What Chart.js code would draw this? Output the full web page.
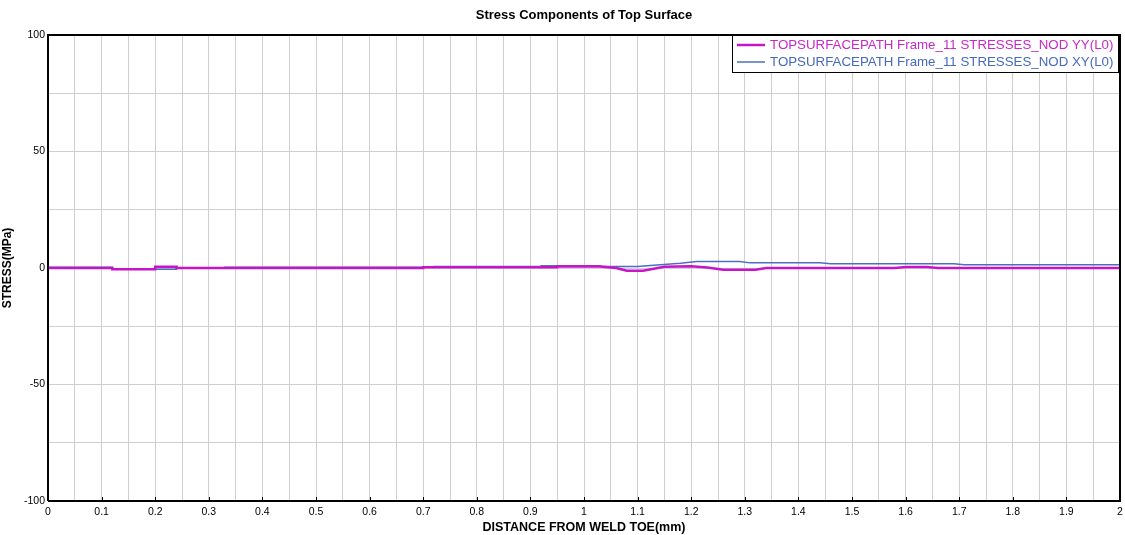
<!DOCTYPE html>
<html>
<head>
<meta charset="utf-8">
<script src="https://cdn.jsdelivr.net/npm/chart.js@4"></script>
<style>
  html, body { margin: 0; padding: 0; background: #fff; }
  #wrap { width: 1125px; height: 535px; }
</style>
</head>
<body>
<div id="wrap"><canvas id="StressGraph"></canvas></div>
<script>
// distance along path (mm) and stress (MPa)
var yyDist = [0, 0.12, 0.12, 0.2, 0.2, 0.24, 0.24, 0.7, 0.7, 0.95, 0.95, 1.03, 1.06, 1.08, 1.11, 1.15, 1.2, 1.23, 1.26, 1.32, 1.34, 1.58, 1.6, 1.64, 1.66, 2];
var yyStress = [0, 0, -0.5, -0.5, 0.5, 0.5, 0, 0, 0.3, 0.3, 0.6, 0.6, 0, -1.2, -1.2, 0.5, 0.8, 0.2, -0.7, -0.7, 0, 0, 0.4, 0.4, 0, 0];
var xyDist = [0, 0.12, 0.12, 0.24, 0.24, 0.33, 0.33, 0.72, 0.72, 0.92, 0.92, 1.03, 1.03, 1.1, 1.13, 1.18, 1.21, 1.29, 1.31, 1.44, 1.46, 1.69, 1.71, 2];
var xyStress = [0.3, 0.3, -0.5, -0.5, 0, 0, 0.3, 0.3, 0.6, 0.6, 1.0, 1.0, 0.6, 0.6, 1.2, 2.0, 2.8, 2.8, 2.2, 2.2, 1.8, 1.8, 1.4, 1.4];
var seriesNames = ["TOPSURFACEPATH Frame_11 STRESSES_NOD YY(L0)", "TOPSURFACEPATH Frame_11 STRESSES_NOD XY(L0)"];
var chartTitle = "Stress Components of Top Surface";
var xTickLabels = [0, 0.1, 0.2, 0.3, 0.4, 0.5, 0.6, 0.7, 0.8, 0.9, 1, 1.1, 1.2, 1.3, 1.4, 1.5, 1.6, 1.7, 1.8, 1.9, 2];
var yTickLabels = [-100, -50, 0, 50, 100];

var FONT = "Arial, 'Liberation Sans', sans-serif";

function toPoints(xs, ys) {
    return xs.map(function(x, i) { return { x: x, y: ys[i] }; });
}

// title over the plot, frame, inner tick marks and the boxed legend inside the plot
var framePlugin = {
    id: 'frame',
    afterDraw: function(chart) {
        var ctx = chart.ctx, a = chart.chartArea, xs = chart.scales.x;
        ctx.save();
        ctx.fillStyle = '#000';
        ctx.font = 'bold 13px ' + FONT;
        ctx.textAlign = 'center';
        ctx.textBaseline = 'middle';
        ctx.fillText(chartTitle, (a.left + a.right) / 2, 15);
        ctx.textAlign = 'left';

        ctx.strokeStyle = '#000';
        ctx.lineWidth = 2;
        ctx.beginPath();
        ctx.moveTo(a.left, a.bottom);
        ctx.lineTo(a.left, a.top);
        ctx.lineTo(a.right, a.top);
        ctx.lineTo(a.right, a.bottom);
        ctx.lineTo(a.left, a.bottom);
        ctx.stroke();
        ctx.lineWidth = 1;
        xTickLabels.forEach(function(v) {
            var px = Math.round(xs.getPixelForValue(v)) + 0.5;
            ctx.beginPath();
            ctx.moveTo(px, a.bottom);
            ctx.lineTo(px, a.bottom - 4);
            ctx.stroke();
        });

        var bx = a.right - 388, by = a.top, bw = 386, bh = 37;
        ctx.fillStyle = '#fff';
        ctx.fillRect(bx, by, bw, bh);
        ctx.strokeStyle = '#000';
        ctx.lineWidth = 1;
        ctx.strokeRect(bx + 0.5, by + 0.5, bw, bh);
        ctx.font = '13.3px ' + FONT;
        ctx.textBaseline = 'middle';
        chart.data.datasets.forEach(function(ds, i) {
            var ly = by + 10 + i * 17;
            ctx.strokeStyle = ds.borderColor;
            ctx.lineWidth = ds.borderWidth;
            ctx.beginPath();
            ctx.moveTo(bx + 5, ly);
            ctx.lineTo(bx + 33, ly);
            ctx.stroke();
            ctx.fillStyle = ds.labelColor;
            ctx.fillText(ds.label, bx + 38, ly);
        });
        ctx.restore();
    }
};

var StressGraph = new Chart(document.getElementById("StressGraph").getContext("2d"), {
    type: 'line',
    data: {
        datasets: [
            {
                label: seriesNames[0],
                data: toPoints(yyDist, yyStress),
                borderColor: "rgba(200,20,200,1)",
                labelColor: "rgba(200,40,200,1)",
                borderWidth: 2.5,
                pointRadius: 0,
                fill: false,
                tension: 0
            },
            {
                label: seriesNames[1],
                data: toPoints(xyDist, xyStress),
                borderColor: "rgba(75,110,195,1)",
                labelColor: "rgba(70,105,190,1)",
                borderWidth: 1.5,
                pointRadius: 0,
                fill: false,
                tension: 0
            }
        ]
    },
    options: {
        responsive: true,
        maintainAspectRatio: false,
        animation: false,
        layout: { padding: { left: 0, right: 5, top: 35, bottom: 0 } },
        plugins: {
            legend: { display: false },
            tooltip: { enabled: false },
            title: { display: false }
        },
        scales: {
            x: {
                type: 'linear',
                min: 0,
                max: 2,
                afterFit: function(s) { s.height = 34; s.paddingRight = 0; s.paddingLeft = 0; },
                ticks: {
                    stepSize: 0.05,
                    autoSkip: false,
                    maxRotation: 0,
                    padding: 5,
                    color: '#000',
                    font: { family: FONT, size: 10.5 },
                    callback: function(v) {
                        var r = Math.round(v * 10) / 10;
                        return Math.abs(v - r) < 1e-6 && xTickLabels.indexOf(r) >= 0 ? String(r) : '';
                    }
                },
                grid: { color: '#cfcfcf', lineWidth: 1, drawTicks: false },
                border: { display: false },
                title: {
                    display: true,
                    text: 'DISTANCE FROM WELD TOE(mm)',
                    color: '#000',
                    font: { family: FONT, size: 12.5, weight: 'bold' },
                    padding: { top: 0, bottom: 0 }
                }
            },
            y: {
                min: -100,
                max: 100,
                afterFit: function(s) { s.width = 48; },
                ticks: {
                    stepSize: 25,
                    color: '#000',
                    padding: 3,
                    font: { family: FONT, size: 10.5 },
                    callback: function(v) { return yTickLabels.indexOf(v) >= 0 ? String(v) : ''; }
                },
                grid: { color: '#cfcfcf', lineWidth: 1, drawTicks: false },
                border: { display: false },
                title: {
                    display: true,
                    text: 'STRESS(MPa)',
                    color: '#000',
                    font: { family: FONT, size: 12, weight: 'bold' },
                    padding: { top: 0, bottom: 1 }
                }
            }
        }
    },
    plugins: [framePlugin]
});
</script>
</body>
</html>
